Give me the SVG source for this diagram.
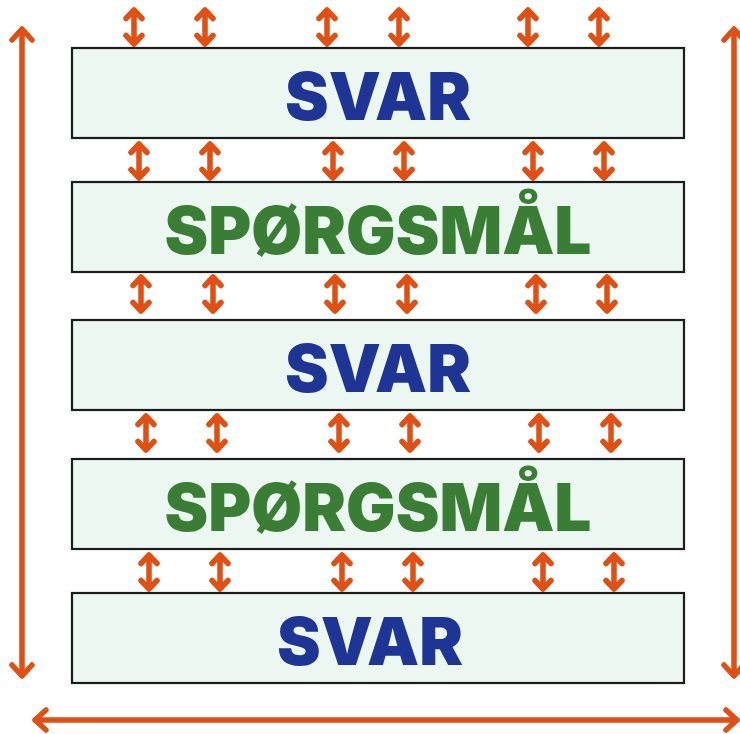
<svg xmlns="http://www.w3.org/2000/svg" xmlns:xlink="http://www.w3.org/1999/xlink" width="740" height="734" viewBox="0 0 740 734">
<style>
.box{fill:#edf7f1;stroke:#1c1c1c;stroke-width:2.2}
.t{font-family:Inter,"DejaVu Sans",sans-serif;font-weight:900;font-size:66px;text-anchor:middle}
.svar{fill:#1e3596}
.sp{fill:#3a7e35}
.ar{fill:none;stroke:#e04f13;stroke-width:5.5;stroke-linecap:round;stroke-linejoin:round}
.big{fill:none;stroke:#e04f13;stroke-width:5.5;stroke-linecap:round;stroke-linejoin:round}
</style>
<defs>
<g id="dbl">
<path class="ar" d="M0,-16V16M-8,-8.5L0,-17L8,-8.5M-8,8.5L0,17L8,8.5"/>
</g>
</defs>
<rect width="740" height="734" fill="#ffffff"/>
<g id="box1"><rect class="box" x="72" y="48" width="612" height="90"/><text class="t svar" x="378" y="120" textLength="186" lengthAdjust="spacingAndGlyphs">SVAR</text></g>
<g id="box2"><rect class="box" x="72" y="182" width="612" height="90"/><text class="t sp" x="378" y="254" textLength="427" lengthAdjust="spacingAndGlyphs">SPØRGSMÅL</text></g>
<g id="box3"><rect class="box" x="72" y="320" width="612" height="90"/><text class="t svar" x="378" y="392" textLength="186" lengthAdjust="spacingAndGlyphs">SVAR</text></g>
<g id="box4"><rect class="box" x="72" y="459" width="612" height="90"/><text class="t sp" x="378" y="531" textLength="427" lengthAdjust="spacingAndGlyphs">SPØRGSMÅL</text></g>
<g id="box5"><rect class="box" x="72" y="593" width="612" height="90"/><text class="t svar" x="370" y="665" textLength="186" lengthAdjust="spacingAndGlyphs">SVAR</text></g>
<g id="connectors">
<use xlink:href="#dbl" x="134" y="27"/><use xlink:href="#dbl" x="205" y="27"/><use xlink:href="#dbl" x="327" y="27"/><use xlink:href="#dbl" x="399" y="27"/><use xlink:href="#dbl" x="528" y="27"/><use xlink:href="#dbl" x="599" y="27"/>
<use xlink:href="#dbl" x="139" y="161"/><use xlink:href="#dbl" x="210" y="161"/><use xlink:href="#dbl" x="333" y="161"/><use xlink:href="#dbl" x="404" y="161"/><use xlink:href="#dbl" x="533" y="161"/><use xlink:href="#dbl" x="604" y="161"/>
<use xlink:href="#dbl" x="141" y="294"/><use xlink:href="#dbl" x="213" y="294"/><use xlink:href="#dbl" x="335" y="294"/><use xlink:href="#dbl" x="407" y="294"/><use xlink:href="#dbl" x="536" y="294"/><use xlink:href="#dbl" x="607" y="294"/>
<use xlink:href="#dbl" x="146" y="433"/><use xlink:href="#dbl" x="217" y="433"/><use xlink:href="#dbl" x="339" y="433"/><use xlink:href="#dbl" x="410" y="433"/><use xlink:href="#dbl" x="539" y="433"/><use xlink:href="#dbl" x="611" y="433"/>
<use xlink:href="#dbl" x="149" y="572"/><use xlink:href="#dbl" x="220" y="572"/><use xlink:href="#dbl" x="342" y="572"/><use xlink:href="#dbl" x="413" y="572"/><use xlink:href="#dbl" x="543" y="572"/><use xlink:href="#dbl" x="614" y="572"/>
<path class="big" d="M22,30V675M12,40L22,29L32,40M12,665L22,676L32,665"/>
<path class="big" d="M734,30V675M724,40L734,29L744,40M724,665L734,676L744,665"/>
<path class="big" d="M35,720H737M46,710L35,720L46,730M726,710L737,720L726,730"/>
</g>
</svg>
